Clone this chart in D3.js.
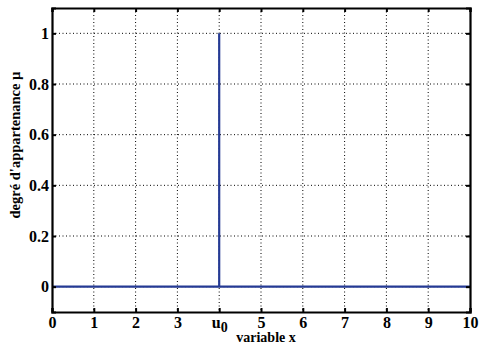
<!DOCTYPE html>
<html>
<head>
<meta charset="utf-8">
<script src="https://cdn.jsdelivr.net/npm/d3@7"></script>
<style>
  body { margin: 0; background: #fff; }
  text { font-family: "Liberation Serif", "Times New Roman", serif; font-weight: bold; }
</style>
</head>
<body>
<svg id="chart" width="479" height="347"></svg>
<script>
// data
var xs = [0, 4, 4, 4, 10];
var ys = [0, 0, 1, 0, 0];
var xTicks = [0, 1, 2, 3, 4, 5, 6, 7, 8, 9, 10];
var xTickLabels = ["0", "1", "2", "3", "u0", "5", "6", "7", "8", "9", "10"];
var yTicks = [0, 0.2, 0.4, 0.6, 0.8, 1];

var margin = {top: 8, right: 9, bottom: 35, left: 52},
    width = 479 - margin.left - margin.right,
    height = 347 - margin.top - margin.bottom;

var svg = d3.select("#chart");
var g = svg.append("g").attr("transform", "translate(" + margin.left + "," + margin.top + ")");

var x = d3.scaleLinear().domain([0, 10]).range([0, width]);
var y = d3.scaleLinear().domain([-0.1, 1.1]).range([height, 0]);

// grid
g.append("g").selectAll("line").data(xTicks.slice(1, -1)).enter().append("line")
  .attr("x1", function(d) { return x(d); }).attr("x2", function(d) { return x(d); })
  .attr("y1", 0).attr("y2", height)
  .attr("stroke", "#000").attr("stroke-width", 1).attr("stroke-dasharray", "1,2.5");
g.append("g").selectAll("line").data(yTicks).enter().append("line")
  .attr("y1", function(d) { return y(d); }).attr("y2", function(d) { return y(d); })
  .attr("x1", 0).attr("x2", width)
  .attr("stroke", "#000").attr("stroke-width", 1).attr("stroke-dasharray", "1,2.5");

// series
var line = d3.line().x(function(d, i) { return x(xs[i]); }).y(function(d, i) { return y(ys[i]); });
g.append("path").datum(xs)
  .attr("d", line)
  .attr("fill", "none")
  .attr("stroke", "#253a94")
  .attr("stroke-width", 2.2);

// axes (ticks inward, box)
var xAxis = g.append("g").attr("transform", "translate(0," + height + ")")
  .call(d3.axisBottom(x).tickValues(xTicks).tickSize(-4).tickFormat(""));
var xTop = g.append("g")
  .call(d3.axisTop(x).tickValues(xTicks).tickSize(-4).tickFormat(""));
var yAxis = g.append("g")
  .call(d3.axisLeft(y).tickValues(yTicks).tickSize(-4).tickPadding(3).tickFormat(d3.format("")));
var yRight = g.append("g").attr("transform", "translate(" + width + ",0)")
  .call(d3.axisRight(y).tickValues(yTicks).tickSize(-4).tickFormat(""));

[xAxis, xTop, yAxis, yRight].forEach(function(a) {
  a.select(".domain").attr("stroke", "#000").attr("stroke-width", 2.2);
  a.selectAll(".tick line").attr("stroke", "#000").attr("stroke-width", 2);
});

yAxis.selectAll(".tick text")
  .attr("font-size", 16).attr("fill", "#000")
  .style("font-family", "'Liberation Serif', serif").style("font-weight", "bold");

// x tick labels with subscript for u0
xAxis.selectAll(".tick").each(function(d, i) {
  var t = d3.select(this).append("text")
    .attr("y", 16).attr("text-anchor", "middle")
    .attr("font-size", 16).attr("fill", "#000");
  var lab = xTickLabels[i];
  if (lab === "u0") {
    t.append("tspan").text("u");
    t.append("tspan").attr("dy", 4).attr("font-size", 14).text("0");
  } else {
    t.text(lab);
  }
});

// axis labels
svg.append("text")
  .attr("x", margin.left + width / 2 + 5).attr("y", 342)
  .attr("text-anchor", "middle").attr("font-size", 14)
  .text("variable x");
svg.append("text")
  .attr("transform", "translate(20,145) rotate(-90)")
  .attr("text-anchor", "middle").attr("font-size", 14.5)
  .text("degré d'appartenance µ");
</script>
</body>
</html>
